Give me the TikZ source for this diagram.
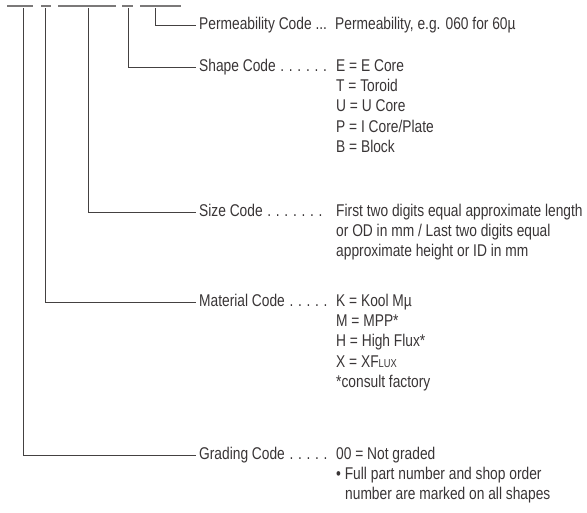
\documentclass[tikz,border=0pt]{standalone}
\usepackage{fontspec}
\setmainfont{Liberation Sans}[FakeStretch=0.81]
\usepackage{tikz}
\usetikzlibrary{positioning}
\definecolor{inkcolor}{HTML}{231F20}
\newcommand{\ldot}{\hspace{4.7pt}.}

\begin{document}
\begin{tikzpicture}[
    x=1pt, y=-1pt,
    bar/.style={draw=inkcolor!60, line width=1.1pt},
    lead/.style={draw=inkcolor!85, line width=0.9pt, shorten >=3pt},
    codename/.style={anchor=base west, inner sep=0pt, text height=11pt, text depth=3pt,
                     font=\fontsize{17}{20}\selectfont, text=inkcolor!90},
    codeval/.style={codename, text height=12pt, text depth=4pt},
    node distance=4pt
]
    \useasboundingbox (0,0) rectangle (587,512);

    % segments of the part number
    \foreach \a/\b in {7/33, 41/51, 58/116, 122/133, 140/181}
        \draw[bar] (\a,6) -- (\b,6);
    \foreach \seg/\xx in {grd/23, mat/45, siz/88, shp/128, prm/155}
        \coordinate (\seg-top) at (\xx,8);

    % permeability
    \node[codename] (prm) at (199,29) {Permeability Code ...};
    \node[codeval] (prm1) at (335,29) {Permeability, e.g. 060 for 60µ};

    % shape
    \node[codename] (shp) at (199,71) {Shape Code\ldot\ldot\ldot\ldot\ldot\ldot};
    \node[codeval] (shp1) at (336,71) {E = E Core};
    \node[codeval, below=of shp1.south west, anchor=north west] (shp2) {T = Toroid};
    \node[codeval, below=of shp2.south west, anchor=north west] (shp3) {U = U Core};
    \node[codeval, below=of shp3.south west, anchor=north west] (shp4) {P = I Core/Plate};
    \node[codeval, below=of shp4.south west, anchor=north west] (shp5) {B = Block};

    % size
    \node[codename] (siz) at (199,216) {Size Code\ldot\ldot\ldot\ldot\ldot\ldot\ldot};
    \node[codeval] (siz1) at (336,216) {First two digits equal approximate length};
    \node[codeval, below=of siz1.south west, anchor=north west] (siz2) {or OD in mm / Last two digits equal};
    \node[codeval, below=of siz2.south west, anchor=north west] (siz3) {approximate height or ID in mm};

    % material
    \node[codename] (mat) at (199,306) {Material Code\ldot\ldot\ldot\ldot\ldot};
    \node[codeval] (mat1) at (336,306) {K = Kool Mµ};
    \node[codeval, below=of mat1.south west, anchor=north west] (mat2) {M = MPP*};
    \node[codeval, below=of mat2.south west, anchor=north west] (mat3) {H = High Flux*};
    \node[codeval, below=of mat3.south west, anchor=north west] (mat4) {X = XF{\fontsize{11.5}{12}\selectfont LUX}};
    \node[codeval, below=of mat4.south west, anchor=north west] (mat5) {*consult factory};

    % grading
    \node[codename] (grd) at (199,459) {Grading Code\ldot\ldot\ldot\ldot\ldot};
    \node[codeval] (grd1) at (336,459) {00 = Not graded};
    \node[codeval, below=of grd1.south west, anchor=north west] (grd2) {• Full part number and shop order};
    \node[codeval, below=of grd2.south west, anchor=north west, xshift=9pt] (grd3) {number are marked on all shapes};

    % leaders
    \draw[lead] (prm-top) |- (prm.west);
    \draw[lead] (shp-top) |- (shp.west);
    \draw[lead] (siz-top) |- (siz.west);
    \draw[lead] (mat-top) |- (mat.west);
    \draw[lead] (grd-top) |- (grd.west);

\end{tikzpicture}
\end{document}
